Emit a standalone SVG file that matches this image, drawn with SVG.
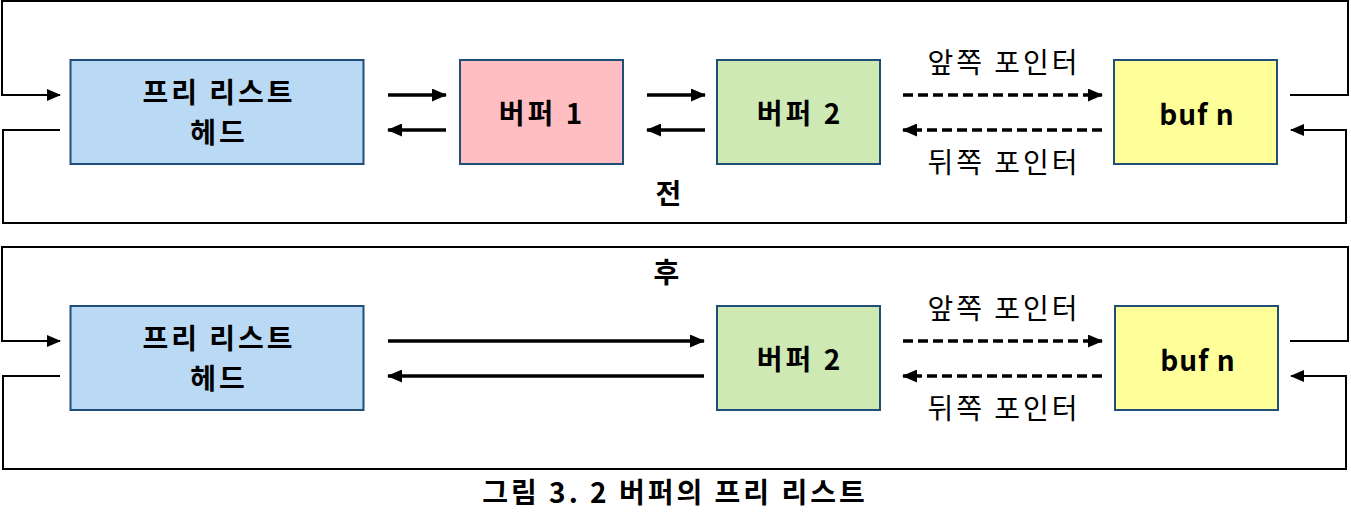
<svg xmlns="http://www.w3.org/2000/svg" width="1351" height="527" viewBox="0 0 1351 527">
<defs>
<style>
.box{stroke:#1F4E79;stroke-width:2}
.t{font-family:"Noto Sans CJK KR","Liberation Sans",sans-serif;font-weight:bold;font-size:28px;letter-spacing:3px;fill:#000;text-anchor:middle}
.l{font-family:"Noto Sans CJK KR","Liberation Sans",sans-serif;font-size:28px;letter-spacing:3px;fill:#000;text-anchor:middle}
.loop{fill:none;stroke:#000;stroke-width:2}
.thick{fill:none;stroke:#000;stroke-width:3.5}
.dash{fill:none;stroke:#000;stroke-width:3.5;stroke-dasharray:10 5}
</style>
<marker id="ah" markerUnits="userSpaceOnUse" markerWidth="15" markerHeight="13" refX="14" refY="6.5" orient="auto">
<path d="M0,0 L15,6.5 L0,13 Z" fill="#000"/>
</marker>
<marker id="ahs" markerUnits="userSpaceOnUse" markerWidth="14" markerHeight="12" refX="13" refY="6" orient="auto">
<path d="M0,0 L14,6 L0,12 Z" fill="#000"/>
</marker>
</defs>
<rect width="1351" height="527" fill="#fff"/>
<g id="connectors">
<path class="loop" d="M1290,95 H1348 V1 H2 V95 H60" marker-end="url(#ahs)"/>
<path class="loop" d="M60,130 H3 V223 H1346 V130 H1291" marker-end="url(#ahs)"/>
<path class="thick" d="M388,95 H446" marker-end="url(#ah)"/>
<path class="thick" d="M446,130 H388" marker-end="url(#ah)"/>
<path class="thick" d="M647,95 H705" marker-end="url(#ah)"/>
<path class="thick" d="M705,130 H647" marker-end="url(#ah)"/>
<path class="dash" d="M903,95 H1102" marker-end="url(#ah)"/>
<path class="dash" d="M1102,130 H903" marker-end="url(#ah)"/>
<path class="loop" d="M1290,341 H1348 V247 H2 V341 H60" marker-end="url(#ahs)"/>
<path class="loop" d="M60,376 H3 V469 H1346 V376 H1291" marker-end="url(#ahs)"/>
<path class="thick" d="M388,341 H704" marker-end="url(#ah)"/>
<path class="thick" d="M704,376 H388" marker-end="url(#ah)"/>
<path class="dash" d="M903,341 H1102" marker-end="url(#ah)"/>
<path class="dash" d="M1102,376 H903" marker-end="url(#ah)"/>
</g>
<g id="head1"><rect class="box" x="70.5" y="60" width="293" height="104" fill="#BAD9F5"/>
<text class="t" x="219" y="103">프리 리스트</text><text class="t" x="219" y="143">헤드</text></g>
<g id="buf1"><rect class="box" x="460" y="60" width="163" height="104" fill="#FFBEC2"/>
<text class="t" x="542" y="124">버퍼 1</text></g>
<g id="buf2a"><rect class="box" x="717" y="60" width="163" height="104" fill="#CFE9B5"/>
<text class="t" x="800" y="124">버퍼 2</text></g>
<g id="bufna"><rect class="box" x="1114" y="60" width="163" height="104" fill="#FFFF99"/>
<text class="t" x="1197" y="125" style="letter-spacing:1px">buf n</text></g>
<g id="lbl1"><text class="l" x="1004" y="73">앞쪽 포인터</text><text class="l" x="1004" y="173">뒤쪽 포인터</text></g>
<text class="t" x="670" y="204">전</text>
<text class="t" x="668" y="283">후</text>
<g id="head2"><rect class="box" x="70.5" y="306" width="293" height="104" fill="#BAD9F5"/>
<text class="t" x="219" y="349">프리 리스트</text><text class="t" x="219" y="389">헤드</text></g>
<g id="buf2b"><rect class="box" x="717" y="306" width="163" height="104" fill="#CFE9B5"/>
<text class="t" x="800" y="370">버퍼 2</text></g>
<g id="bufnb"><rect class="box" x="1115" y="306" width="163" height="104" fill="#FFFF99"/>
<text class="t" x="1198" y="371" style="letter-spacing:1px">buf n</text></g>
<g id="lbl2"><text class="l" x="1004" y="319">앞쪽 포인터</text><text class="l" x="1004" y="419">뒤쪽 포인터</text></g>
<text class="t" x="675" y="503">그림 3. 2 버퍼의 프리 리스트</text>
</svg>
